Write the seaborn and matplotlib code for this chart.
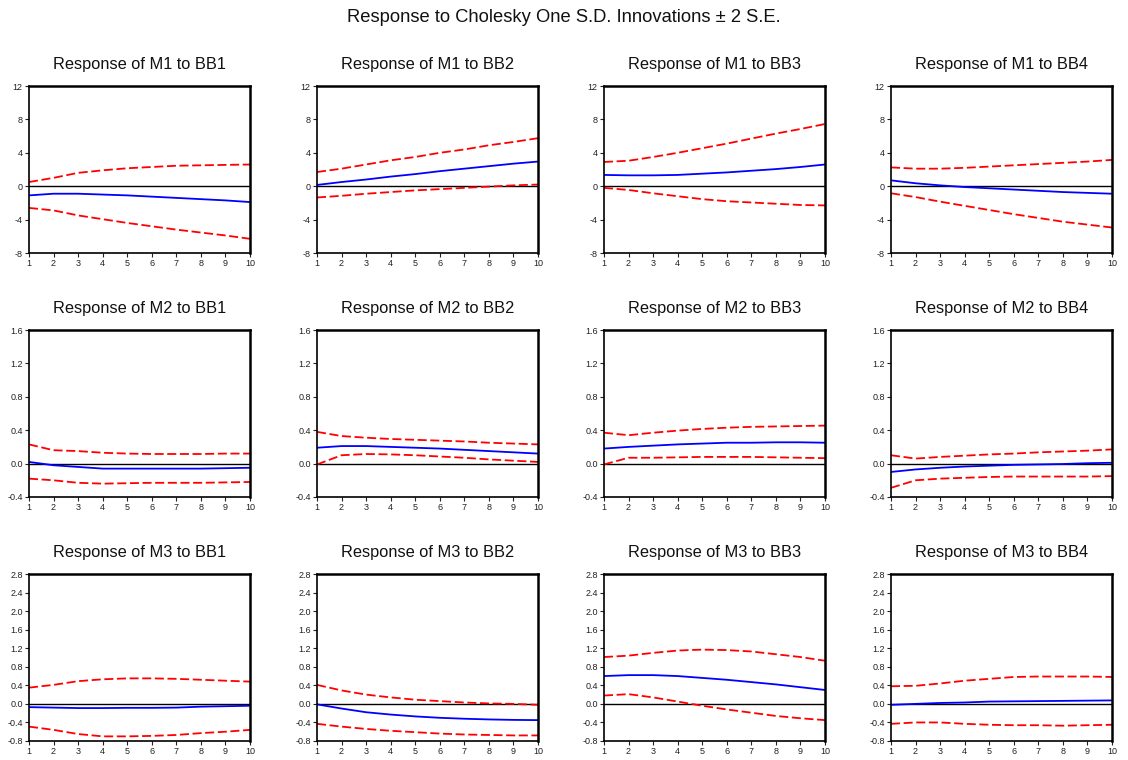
import matplotlib
matplotlib.use("Agg")
import matplotlib.pyplot as plt
import seaborn as sns
import pandas as pd
from matplotlib.ticker import FormatStrFormatter

sns.set_style("white")
plt.rcParams['font.family'] = ['Liberation Sans', 'DejaVu Sans']

periods = [1, 2, 3, 4, 5, 6, 7, 8, 9, 10]
responses = ["M1", "M2", "M3"]
impulses = ["BB1", "BB2", "BB3", "BB4"]

# Row M1
m1_bb1_resp = [-1.1, -0.9, -0.9, -1.0, -1.1, -1.25, -1.4, -1.55, -1.7, -1.9]
m1_bb1_up = [0.5, 1.0, 1.6, 1.9, 2.15, 2.3, 2.45, 2.5, 2.55, 2.6]
m1_bb1_lo = [-2.6, -2.9, -3.5, -3.95, -4.4, -4.8, -5.2, -5.55, -5.9, -6.3]

m1_bb2_resp = [0.15, 0.5, 0.8, 1.15, 1.45, 1.8, 2.1, 2.4, 2.7, 2.95]
m1_bb2_up = [1.7, 2.1, 2.6, 3.1, 3.5, 4.0, 4.4, 4.9, 5.3, 5.75]
m1_bb2_lo = [-1.35, -1.15, -0.9, -0.7, -0.5, -0.35, -0.2, -0.05, 0.1, 0.2]

m1_bb3_resp = [1.35, 1.3, 1.3, 1.35, 1.5, 1.65, 1.85, 2.05, 2.3, 2.6]
m1_bb3_up = [2.9, 3.05, 3.5, 4.0, 4.55, 5.1, 5.7, 6.3, 6.85, 7.45]
m1_bb3_lo = [-0.2, -0.45, -0.85, -1.2, -1.55, -1.8, -1.95, -2.1, -2.25, -2.3]

m1_bb4_resp = [0.7, 0.35, 0.1, -0.1, -0.25, -0.4, -0.55, -0.7, -0.8, -0.9]
m1_bb4_up = [2.25, 2.1, 2.1, 2.2, 2.35, 2.5, 2.65, 2.8, 2.95, 3.15]
m1_bb4_lo = [-0.85, -1.3, -1.85, -2.35, -2.85, -3.35, -3.8, -4.25, -4.6, -4.95]

# Row M2
m2_bb1_resp = [0.02, -0.02, -0.04, -0.06, -0.06, -0.06, -0.06, -0.06, -0.055, -0.05]
m2_bb1_up = [0.23, 0.16, 0.15, 0.13, 0.12, 0.115, 0.115, 0.115, 0.12, 0.12]
m2_bb1_lo = [-0.18, -0.2, -0.23, -0.24, -0.235, -0.23, -0.23, -0.23, -0.225, -0.22]

m2_bb2_resp = [0.19, 0.21, 0.21, 0.2, 0.19, 0.18, 0.165, 0.15, 0.135, 0.12]
m2_bb2_up = [0.38, 0.33, 0.31, 0.295, 0.285, 0.275, 0.265, 0.25, 0.24, 0.23]
m2_bb2_lo = [-0.01, 0.10, 0.115, 0.11, 0.1, 0.085, 0.07, 0.05, 0.035, 0.02]

m2_bb3_resp = [0.18, 0.2, 0.215, 0.23, 0.24, 0.25, 0.25, 0.255, 0.255, 0.25]
m2_bb3_up = [0.37, 0.34, 0.37, 0.395, 0.415, 0.43, 0.44, 0.445, 0.45, 0.455]
m2_bb3_lo = [-0.01, 0.07, 0.07, 0.075, 0.08, 0.08, 0.08, 0.075, 0.07, 0.065]

m2_bb4_resp = [-0.1, -0.07, -0.05, -0.035, -0.025, -0.015, -0.01, -0.005, 0.005, 0.01]
m2_bb4_up = [0.1, 0.06, 0.08, 0.095, 0.11, 0.12, 0.135, 0.145, 0.155, 0.17]
m2_bb4_lo = [-0.29, -0.2, -0.18, -0.17, -0.16, -0.155, -0.155, -0.155, -0.155, -0.15]

# Row M3
m3_bb1_resp = [-0.07, -0.08, -0.09, -0.09, -0.085, -0.085, -0.08, -0.06, -0.05, -0.04]
m3_bb1_up = [0.35, 0.41, 0.49, 0.53, 0.55, 0.55, 0.54, 0.52, 0.5, 0.48]
m3_bb1_lo = [-0.49, -0.56, -0.65, -0.7, -0.7, -0.69, -0.67, -0.63, -0.6, -0.56]

m3_bb2_resp = [-0.01, -0.1, -0.18, -0.23, -0.27, -0.3, -0.32, -0.335, -0.345, -0.35]
m3_bb2_up = [0.41, 0.29, 0.2, 0.14, 0.09, 0.06, 0.03, 0.01, 0.0, -0.02]
m3_bb2_lo = [-0.43, -0.49, -0.54, -0.58, -0.61, -0.64, -0.66, -0.67, -0.68, -0.68]

m3_bb3_resp = [0.6, 0.62, 0.62, 0.6, 0.56, 0.52, 0.47, 0.42, 0.36, 0.3]
m3_bb3_up = [1.01, 1.04, 1.1, 1.15, 1.17, 1.16, 1.13, 1.07, 1.01, 0.93]
m3_bb3_lo = [0.18, 0.21, 0.14, 0.05, -0.04, -0.12, -0.19, -0.26, -0.31, -0.35]

m3_bb4_resp = [-0.02, 0.0, 0.02, 0.03, 0.05, 0.055, 0.06, 0.065, 0.07, 0.075]
m3_bb4_up = [0.38, 0.39, 0.44, 0.5, 0.54, 0.58, 0.59, 0.59, 0.59, 0.58]
m3_bb4_lo = [-0.43, -0.4, -0.4, -0.43, -0.45, -0.46, -0.46, -0.47, -0.46, -0.45]

panels = {
    ("M1", "BB1"): (m1_bb1_resp, m1_bb1_up, m1_bb1_lo),
    ("M1", "BB2"): (m1_bb2_resp, m1_bb2_up, m1_bb2_lo),
    ("M1", "BB3"): (m1_bb3_resp, m1_bb3_up, m1_bb3_lo),
    ("M1", "BB4"): (m1_bb4_resp, m1_bb4_up, m1_bb4_lo),
    ("M2", "BB1"): (m2_bb1_resp, m2_bb1_up, m2_bb1_lo),
    ("M2", "BB2"): (m2_bb2_resp, m2_bb2_up, m2_bb2_lo),
    ("M2", "BB3"): (m2_bb3_resp, m2_bb3_up, m2_bb3_lo),
    ("M2", "BB4"): (m2_bb4_resp, m2_bb4_up, m2_bb4_lo),
    ("M3", "BB1"): (m3_bb1_resp, m3_bb1_up, m3_bb1_lo),
    ("M3", "BB2"): (m3_bb2_resp, m3_bb2_up, m3_bb2_lo),
    ("M3", "BB3"): (m3_bb3_resp, m3_bb3_up, m3_bb3_lo),
    ("M3", "BB4"): (m3_bb4_resp, m3_bb4_up, m3_bb4_lo),
}

row_yticks = {
    "M1": [-8, -4, 0, 4, 8, 12],
    "M2": [-0.4, 0.0, 0.4, 0.8, 1.2, 1.6],
    "M3": [-0.8, -0.4, 0.0, 0.4, 0.8, 1.2, 1.6, 2.0, 2.4, 2.8],
}
row_fmt = {"M1": "%d", "M2": "%.1f", "M3": "%.1f"}

W, H = 1128, 760
fig = plt.figure(figsize=(W / 100, H / 100), dpi=100)
col_left_px = [29, 317, 604, 891]
row_top_px = [86, 330, 574]
ax_w_px, ax_h_px = 221, 167

fig.text(0.5, 1 - 18 / H, "Response to Cholesky One S.D. Innovations \u00b1 2 S.E.",
         ha="center", va="center", fontsize=13.2, color="#111111")

for i, r in enumerate(responses):
    for j, imp in enumerate(impulses):
        resp, up, lo = panels[(r, imp)]
        left = col_left_px[j] / W
        bottom = 1 - (row_top_px[i] + ax_h_px) / H
        ax = fig.add_axes([left, bottom, ax_w_px / W, ax_h_px / H])
        df = pd.DataFrame({"period": periods, "resp": resp, "up": up, "lo": lo})
        ax.axhline(0, color="black", lw=1.0, zorder=1)
        sns.lineplot(data=df, x="period", y="up", ax=ax, color="red", lw=1.3,
                     linestyle=(0, (5, 2)))
        sns.lineplot(data=df, x="period", y="lo", ax=ax, color="red", lw=1.3,
                     linestyle=(0, (5, 2)))
        sns.lineplot(data=df, x="period", y="resp", ax=ax, color="blue", lw=1.3)
        yt = row_yticks[r]
        ax.set_xlim(1, 10)
        ax.set_ylim(yt[0], yt[-1])
        ax.set_xticks(periods)
        ax.set_yticks(yt)
        ax.yaxis.set_major_formatter(FormatStrFormatter(row_fmt[r]))
        ax.set_xlabel("")
        ax.set_ylabel("")
        ax.tick_params(axis="both", which="major", labelsize=6.5, length=3,
                       width=0.8, direction="out", pad=1.5, colors="#222222",
                       left=True, bottom=True)
        for s in ax.spines.values():
            s.set_visible(True)
            s.set_color("black")
            s.set_linewidth(1.8)
        ax.spines["left"].set_linewidth(1.2)
        ax.spines["bottom"].set_linewidth(1.2)
        ax.set_title(f"Response of {r} to {imp}", fontsize=11.8, pad=12,
                     color="#111111")

fig.savefig("out.png", dpi=100)
